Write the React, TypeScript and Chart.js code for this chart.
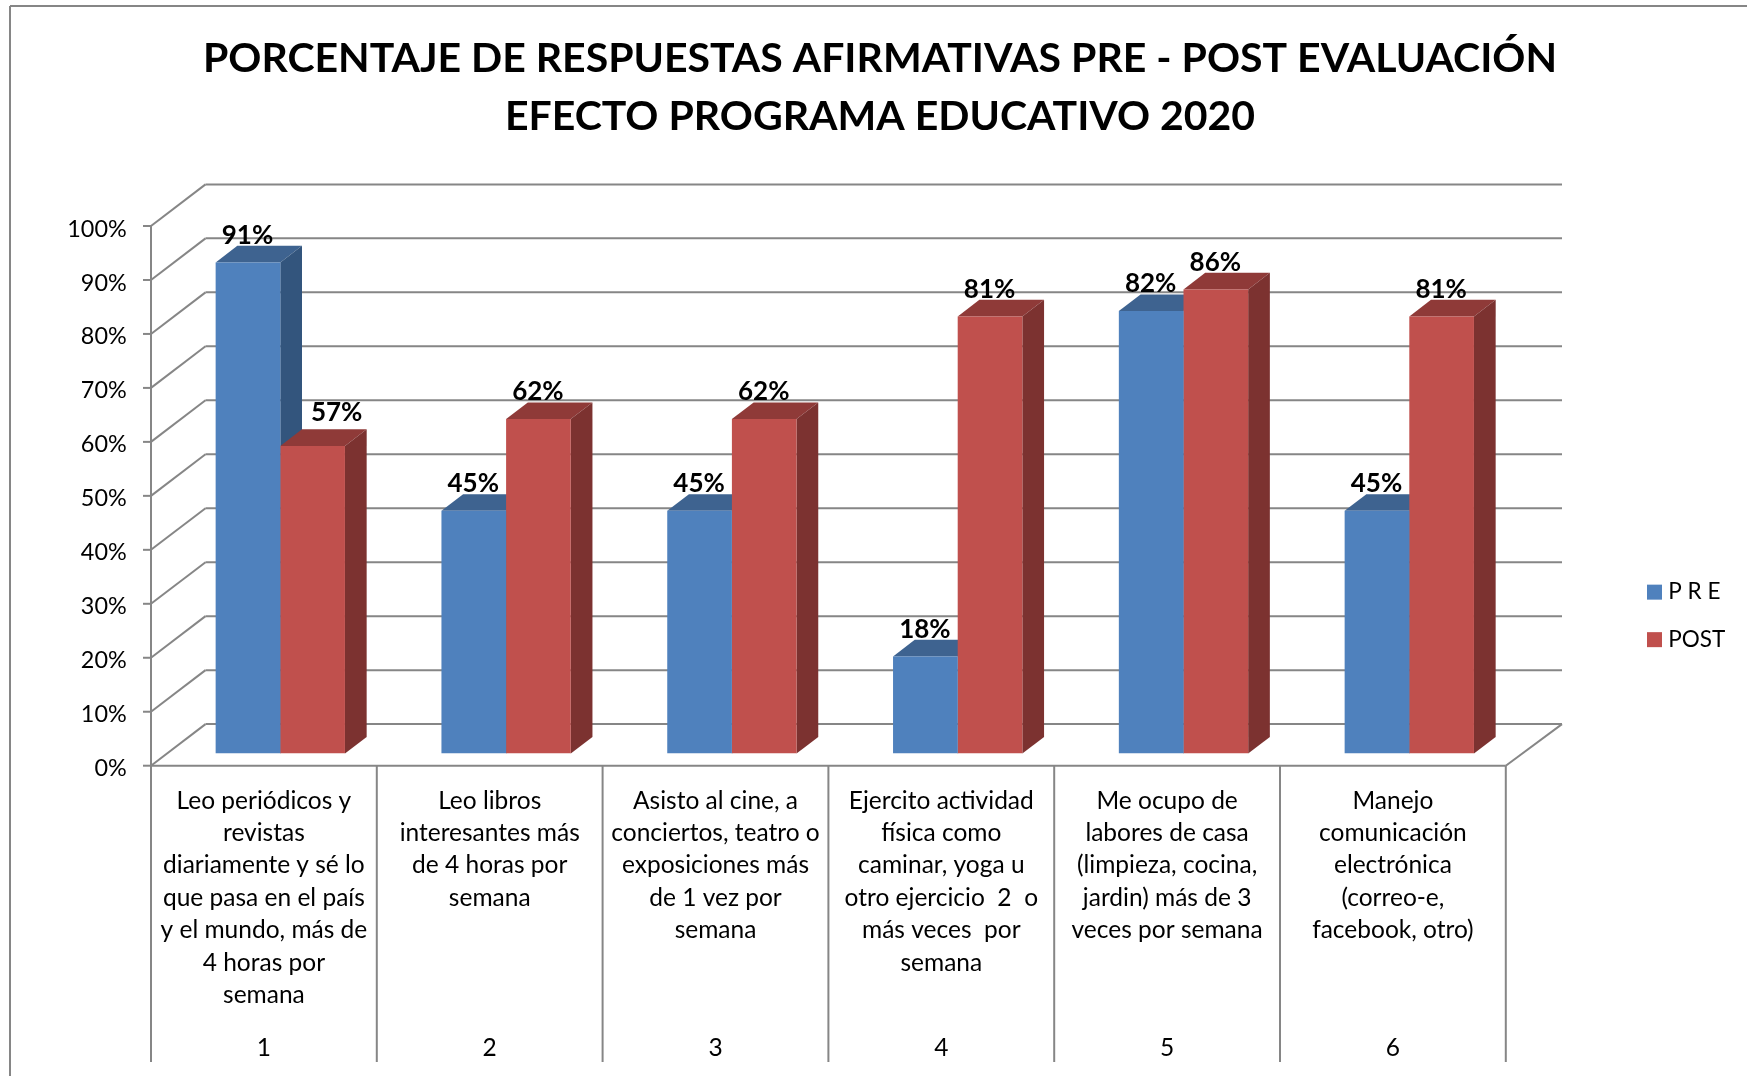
import React, { useEffect, useRef } from "react";
import { Chart, registerables } from "chart.js";

Chart.register(...registerables);

const titleLines = [
  "PORCENTAJE DE RESPUESTAS AFIRMATIVAS PRE - POST EVALUACIÓN",
  "EFECTO PROGRAMA EDUCATIVO 2020",
];
const categoryLabels = [
  ["Leo periódicos y", "revistas", "diariamente y sé lo", "que pasa en el país", "y el mundo, más de", "4 horas por", "semana"],
  ["Leo libros", "interesantes más", "de 4 horas por", "semana"],
  ["Asisto al cine, a", "conciertos, teatro o", "exposiciones más", "de 1 vez por", "semana"],
  ["Ejercito actividad", "física como", "caminar, yoga u", "otro ejercicio  2  o", "más veces  por", "semana"],
  ["Me ocupo de", "labores de casa", "(limpieza, cocina,", "jardin) más de 3", "veces por semana"],
  ["Manejo", "comunicación", "electrónica", "(correo-e,", "facebook, otro)"],
];
const categoryNumbers = ["1", "2", "3", "4", "5", "6"];
const preValues = [91, 45, 45, 18, 82, 45];
const postValues = [57, 62, 62, 81, 86, 81];

const FONT = "Lato, 'Open Sans', sans-serif";
const GRID = "#868686";
const BLUE = { front: "#4F81BD", top: "#3E6390", side: "#33557D" };
const RED = { front: "#C0504D", top: "#8F3A38", side: "#7C3230" };

// 3D projection: the bars stand on a plane shifted from the front of the box
const PLANE_DX = 16.4;
const PLANE_DY = 12.1;
const BACK_DX = 54.5;
const BACK_DY = 41.6;
const BAR_DX = 21.7;
const BAR_DY = 16.6;

const poly = (ctx: CanvasRenderingContext2D, pts: number[][], fill: string) => {
  ctx.beginPath();
  pts.forEach(([x, y], i) => (i ? ctx.lineTo(x, y) : ctx.moveTo(x, y)));
  ctx.closePath();
  ctx.fillStyle = fill;
  ctx.fill();
};

const seg = (ctx: CanvasRenderingContext2D, x1: number, y1: number, x2: number, y2: number) => {
  ctx.beginPath();
  ctx.moveTo(x1, y1);
  ctx.lineTo(x2, y2);
  ctx.stroke();
};

const placeBoxes = {
  id: "placeBoxes",
  afterLayout(chart: any) {
    const t = chart.titleBlock;
    if (t) {
      t.left = 14;
      t.right = 1746;
    }
    const l = chart.legend;
    if (l) {
      l.left = 1627;
      l.right = 1747;
      l.top = 555.9;
      l.bottom = 760;
      l.width = l.right - l.left;
      l.height = l.bottom - l.top;
    }
  },
};

const box3d = {
  id: "box3d",
  beforeDatasetsDraw(chart: any) {
    const { ctx, scales } = chart;
    const xs = scales.x;
    const ys = scales.y;
    const frontLeft = xs.left - PLANE_DX;
    const frontRight = xs.right - PLANE_DX;
    const floorY = ys.getPixelForValue(0) + PLANE_DY;
    const topY = ys.getPixelForValue(100) + PLANE_DY;
    ctx.save();
    ctx.strokeStyle = GRID;
    ctx.lineWidth = 2;
    // outer frame
    seg(ctx, 10, 6, 10, 1076);
    seg(ctx, 10, 6, 1747, 6);
    // walls and gridlines
    ys.ticks.forEach((t: any) => {
      const yf = ys.getPixelForValue(t.value) + PLANE_DY;
      seg(ctx, frontLeft - 8, yf, frontLeft, yf);
      seg(ctx, frontLeft, yf, frontLeft + BACK_DX, yf - BACK_DY);
      seg(ctx, frontLeft + BACK_DX, yf - BACK_DY, frontRight + BACK_DX + 1.7, yf - BACK_DY);
    });
    // front axis and floor
    seg(ctx, frontLeft, topY, frontLeft, 1062);
    seg(ctx, frontLeft, floorY, frontRight, floorY);
    seg(ctx, frontRight, floorY, frontRight + BACK_DX + 1.7, floorY - BACK_DY);
    const step = xs.width / categoryNumbers.length;
    for (let i = 1; i <= categoryNumbers.length; i++) {
      seg(ctx, frontLeft + i * step, floorY, frontLeft + i * step, 1062);
    }
    // bar depth faces
    [BLUE, RED].forEach((c, d) => {
      chart.getDatasetMeta(d).data.forEach((b: any) => {
        const r = b.x + b.width / 2;
        const l = b.x - b.width / 2;
        poly(ctx, [[l, b.y], [r, b.y], [r + BAR_DX, b.y - BAR_DY], [l + BAR_DX, b.y - BAR_DY]], c.top);
        poly(ctx, [[r, b.y], [r + BAR_DX, b.y - BAR_DY], [r + BAR_DX, b.base - BAR_DY], [r, b.base]], c.side);
      });
    });
    ctx.restore();
  },
  afterDatasetsDraw(chart: any) {
    const { ctx } = chart;
    ctx.save();
    ctx.font = `bold 26px ${FONT}`;
    ctx.fillStyle = "#000";
    ctx.textAlign = "center";
    ctx.textBaseline = "middle";
    chart.data.datasets.forEach((ds: any, d: number) => {
      chart.getDatasetMeta(d).data.forEach((b: any, i: number) => {
        const moved = d === 1 && i === 0; // this label sits off-centre in the reference
        ctx.fillText(`${ds.data[i]}%`, b.x + (moved ? 24 : -0.5), b.y - (moved ? 33 : 27));
      });
    });
    ctx.restore();
  },
};

export default function App() {
  const ref = useRef<HTMLCanvasElement>(null);
  useEffect(() => {
    document.body.style.margin = "0";
    const tickFont = { family: FONT, size: 24.5, lineHeight: 32.4 / 24.5 };
    const chart = new Chart(ref.current!, {
      type: "bar",
      data: {
        labels: categoryLabels as any,
        datasets: [
          { label: "P R E", data: preValues, backgroundColor: BLUE.front, borderWidth: 0, categoryPercentage: 0.5727, barPercentage: 1 },
          { label: "POST", data: postValues, backgroundColor: RED.front, borderWidth: 0, categoryPercentage: 0.5727, barPercentage: 1 },
        ],
      },
      options: {
        responsive: false,
        animation: false,
        devicePixelRatio: 1,
        layout: { padding: { left: 0, right: 224.8, top: 0, bottom: 0 } },
        plugins: {
          title: {
            display: true,
            text: titleLines,
            color: "#000",
            font: { family: FONT, size: 41, weight: "bold", lineHeight: 58 / 41 },
            padding: { top: 29.5, bottom: 68.4 },
          },
          legend: {
            position: "chartArea" as any,
            align: "start",
            labels: {
              color: "#000",
              font: { family: FONT, size: 22.5 },
              boxWidth: 5,
              boxHeight: 5,
              padding: 25,
              generateLabels: (c: any) =>
                c.data.datasets.map((d: any, i: number) => ({
                  text: d.label,
                  fillStyle: d.backgroundColor,
                  strokeStyle: d.backgroundColor,
                  lineWidth: 10,
                  hidden: false,
                  datasetIndex: i,
                })),
            },
          },
          tooltip: { enabled: false },
        },
        scales: {
          x: {
            type: "category",
            position: "bottom",
            weight: 1,
            offset: true,
            grid: { display: false },
            border: { display: false },
            ticks: { color: "#000", font: tickFont, padding: 22.9, labelOffset: -PLANE_DX, autoSkip: false, maxRotation: 0, minRotation: 0 },
            afterFit: (s: any) => { s.height = 268.7; },
          },
          x2: {
            type: "category",
            labels: categoryNumbers,
            position: "bottom",
            weight: 2,
            offset: true,
            grid: { display: false },
            border: { display: false },
            ticks: { color: "#000", font: tickFont, padding: 1.7, labelOffset: -PLANE_DX, autoSkip: false, maxRotation: 0, minRotation: 0 },
            afterFit: (s: any) => { s.height = 53.7; },
          },
          y: {
            min: 0,
            max: 100,
            grid: { display: false },
            border: { display: false },
            ticks: { color: "#000", font: { family: FONT, size: 23.4 }, stepSize: 10, padding: 32.7, labelOffset: 15.1, callback: (v: any) => `${v}%` },
            afterFit: (s: any) => { s.width = 167.4; },
          },
        },
      },
      plugins: [placeBoxes, box3d],
    } as any);
    return () => chart.destroy();
  }, []);
  return <canvas ref={ref} width={1747} height={1076} style={{ display: "block", position: "absolute", left: 0, top: 0, width: 1747, height: 1076 }} />;
}
